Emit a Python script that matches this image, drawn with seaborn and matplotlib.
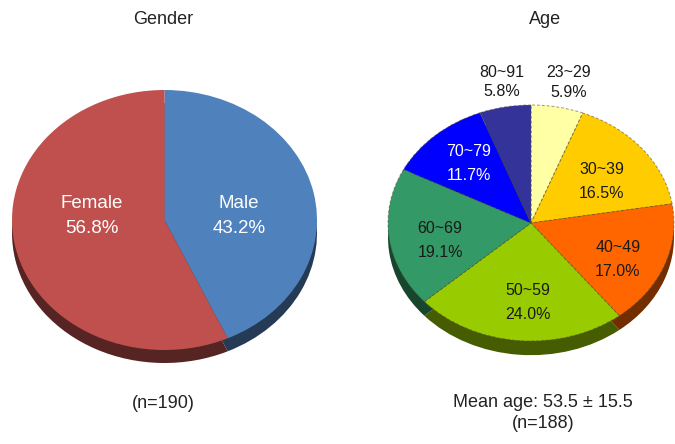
import numpy as np
import matplotlib
matplotlib.use("Agg")
import matplotlib.pyplot as plt
import matplotlib.colors as mcolors
import seaborn as sns

# ---- data ----
gender_labels = ["Male", "Female"]
gender_values = [43.2, 56.8]
gender_colors = ["#4F81BD", "#C0504D"]

age_labels = ["23~29", "30~39", "40~49", "50~59", "60~69", "70~79", "80~91"]
age_values = [5.9, 16.5, 17.0, 24.0, 19.1, 11.7, 5.8]
age_colors = ["#FFFFA6", "#FFCC00", "#FF6600", "#99CC00", "#339966", "#0000FF", "#333399"]

gender_title = "Gender"
age_title = "Age"
gender_note = "(n=190)"
age_note = "Mean age: 53.5 \u00b1 15.5\n(n=188)"

# ---- layout constants ----
W, H = 675, 444
sns.set_theme(style="white")
plt.rcParams["font.family"] = ["Liberation Sans", "DejaVu Sans"]

fig = plt.figure(figsize=(W / 100, H / 100), dpi=100)


def make_axes(cx, cy_top, rx, ry):
    ax = fig.add_axes([0, 0, 1, 1])
    cy = H - cy_top
    return ax, (-cx / rx, (W - cx) / rx), (-cy / ry, (H - cy) / ry)


def darken(c, f=0.45):
    r, g, b = mcolors.to_rgb(c)
    return (r * f, g * f, b * f)


def draw_pie(ax, xl, yl, values, colors, depth, wedgeprops):
    ax.pie(values, colors=[darken(c) for c in colors], startangle=90,
           counterclock=False, center=(0, -depth), radius=1,
           wedgeprops=dict(linewidth=0))
    wedges, _ = ax.pie(values, colors=colors, startangle=90,
                       counterclock=False, center=(0, 0), radius=1,
                       wedgeprops=wedgeprops)
    ax.set_aspect("auto")
    ax.set_xlim(*xl)
    ax.set_ylim(*yl)
    ax.axis("off")
    return wedges


def place_labels(ax, wedges, texts, radii, nudges, colors, size, spacings):
    for w, t, r, n, c, s in zip(wedges, texts, radii, nudges, colors, spacings):
        th = np.deg2rad((w.theta1 + w.theta2) / 2 - n)
        ax.text(r * np.cos(th), r * np.sin(th), t, ha="center", va="center",
                color=c, fontsize=size, linespacing=s)


# Gender pie
axL, xlL, ylL = make_axes(164.5, 220, 152.5, 130)
wL = draw_pie(axL, xlL, ylL, gender_values, gender_colors, 0.1,
              dict(linewidth=0))
place_labels(axL, wL,
             [f"{l}\n{v:.1f}%" for l, v in zip(gender_labels, gender_values)],
             [0.49, 0.476], [8.7, 15.8], ["white", "white"], 13.5, [1.6, 1.6])

# Age pie
axR, xlR, ylR = make_axes(531, 223, 143, 118)
wR = draw_pie(axR, xlR, ylR, age_values, age_colors, 0.12,
              dict(linewidth=0.7, edgecolor=(0.35, 0.33, 0.2, 0.6),
                   linestyle=(0, (3, 2))))
place_labels(axR, wR,
             [f"{l}\n{v:.1f}%" for l, v in zip(age_labels, age_values)],
             [1.22, 0.61, 0.68, 0.67, 0.652, 0.664, 1.21],
             [1.8, 3.4, 5.6, -3.2, -5.4, 1.2, 0.8],
             ["#1a1a1a"] * 5 + ["white", "#1a1a1a"], 11.5,
             [1.45, 1.75, 1.75, 1.75, 1.75, 1.75, 1.35])

# titles and notes
fig.text(163 / W, 1 - 20 / H, gender_title, ha="center", va="center", fontsize=13, color="#222222")
fig.text(545 / W, 1 - 20 / H, age_title, ha="center", va="center", fontsize=13, color="#222222")
fig.text(163 / W, 1 - 403 / H, gender_note, ha="center", va="center", fontsize=13, color="#222222")
fig.text(543 / W, 1 - 413 / H, age_note, ha="center", va="center", fontsize=13,
         color="#222222", linespacing=1.3)

fig.savefig("out.png", dpi=100)
